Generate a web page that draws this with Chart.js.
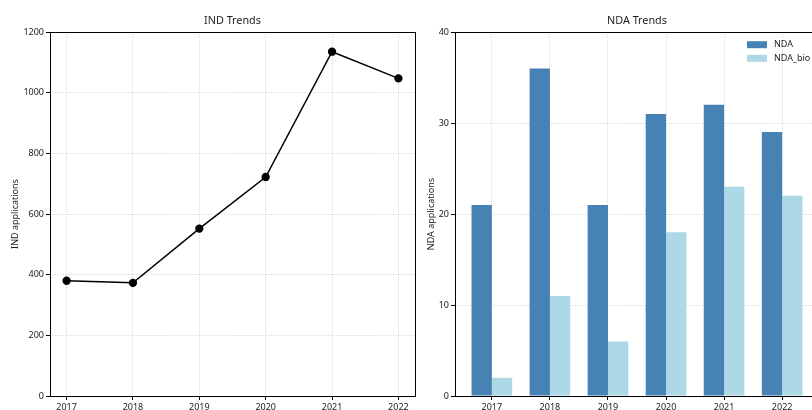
<!DOCTYPE html>
<html>
<head>
<meta charset="utf-8">
<script src="https://cdn.jsdelivr.net/npm/chart.js@4.4.1/dist/chart.umd.min.js"></script>
<style>
  html, body { margin: 0; padding: 0; background: #fff; overflow: hidden; }
  #wrap { position: relative; width: 812px; height: 410px; overflow: hidden; }
  #indBox { position: absolute; left: 0; top: 0; width: 430px; height: 410px; }
  #ndaBox { position: absolute; left: 412px; top: 0; width: 420px; height: 410px; }
</style>
</head>
<body>
<div id="wrap">
  <div id="indBox"><canvas id="indChart"></canvas></div>
  <div id="ndaBox"><canvas id="ndaChart"></canvas></div>
</div>
<script>
// Yearly submission counts
const years = [2017, 2018, 2019, 2020, 2021, 2022];
const indApplications = [380, 373, 552, 722, 1135, 1047];
const ndaApplications = [21, 36, 21, 31, 32, 29];
const ndaBioApplications = [2, 11, 6, 18, 23, 22];
const indTicks = [0, 200, 400, 600, 800, 1000, 1200];
const ndaTicks = [0, 10, 20, 30, 40];

const FONT = "'Noto Sans', 'Open Sans', sans-serif";
const INK = '#222';
const GRID = '#c4c4c4';

// Full rectangular frame around the plotting area
const framePlugin = {
  id: 'frame',
  afterDatasetsDraw(chart) {
    const { ctx, chartArea: a } = chart;
    ctx.save();
    ctx.strokeStyle = '#000';
    ctx.lineWidth = 1;
    ctx.strokeRect(Math.round(a.left) + 0.5, Math.round(a.top) + 0.5,
                   Math.round(a.right - a.left), Math.round(a.bottom - a.top));
    ctx.restore();
  }
};

// Panel title centred over the plotting area
const panelTitle = {
  id: 'panelTitle',
  afterDraw(chart, args, opts) {
    const { ctx, chartArea: a } = chart;
    ctx.save();
    ctx.font = '10.8px ' + FONT;
    ctx.fillStyle = INK;
    ctx.textAlign = 'center';
    ctx.textBaseline = 'middle';
    ctx.fillText(opts.text, (a.left + a.right) / 2, a.top - 11);
    ctx.restore();
  }
};

// Legend stacked in the upper-right corner inside the plotting area
const cornerLegend = {
  id: 'cornerLegend',
  afterDatasetsDraw(chart, args, opts) {
    const { ctx, chartArea: a } = chart;
    ctx.save();
    ctx.font = '9px ' + FONT;
    ctx.textBaseline = 'middle';
    chart.data.datasets.forEach((ds, i) => {
      const y = a.top + opts.top + i * opts.rowGap;
      const x = a.right - opts.right;
      ctx.fillStyle = ds.backgroundColor;
      ctx.fillRect(x, y - 3.5, 20, 7);
      ctx.fillStyle = INK;
      ctx.fillText(ds.label, x + 27, y);
    });
    ctx.restore();
  }
};

const gridStyle = { color: GRID, lineWidth: 0.8, tickColor: '#000', tickWidth: 1, tickLength: 4, tickBorderDash: [] };

function yearAxis(minV, maxV, height) {
  return {
    type: 'linear',
    offset: false,
    min: minV,
    max: maxV,
    afterBuildTicks: s => { s.ticks = years.map(v => ({ value: v })); },
    afterFit: s => { s.height = height; },
    grid: Object.assign({ offset: false }, gridStyle),
    border: { display: false, dash: [1, 1.6] },
    ticks: {
      autoSkip: false, maxRotation: 0, padding: 2, color: INK,
      font: { family: FONT, size: 9 },
      callback: v => String(v)
    }
  };
}

function countAxis(maxV, tickList, width, label) {
  return {
    min: 0,
    max: maxV,
    afterBuildTicks: s => { s.ticks = tickList.map(v => ({ value: v })); },
    afterFit: s => { s.width = width; },
    grid: Object.assign({}, gridStyle),
    border: { display: false, dash: [1, 1.6] },
    ticks: { padding: 2, color: INK, font: { family: FONT, size: 9 }, callback: v => String(v) },
    title: { display: true, text: label, color: INK, font: { family: FONT, size: 9 }, padding: { top: 0, bottom: 0 } }
  };
}

new Chart(document.getElementById('indChart'), {
  type: 'line',
  data: {
    datasets: [{
      label: 'IND',
      data: years.map((y, i) => ({ x: y, y: indApplications[i] })),
      borderColor: '#000',
      backgroundColor: '#000',
      borderWidth: 1.5,
      pointRadius: 3.4,
      pointHoverRadius: 3.4,
      tension: 0
    }]
  },
  options: {
    responsive: true,
    maintainAspectRatio: false,
    animation: false,
    events: [],
    layout: { padding: { left: 10, right: 15, top: 32, bottom: 0 } },
    plugins: {
      legend: { display: false }, tooltip: { enabled: false }, title: { display: false },
      panelTitle: { text: 'IND Trends' }
    },
    scales: {
      x: yearAxis(2016.75, 2022.25, 14),
      y: countAxis(1200, indTicks, 40, 'IND applications')
    }
  },
  plugins: [framePlugin, panelTitle]
});

new Chart(document.getElementById('ndaChart'), {
  type: 'bar',
  data: {
    datasets: [
      { label: 'NDA', data: years.map((y, i) => ({ x: y, y: ndaApplications[i] })), backgroundColor: '#4682B4' },
      { label: 'NDA_bio', data: years.map((y, i) => ({ x: y, y: ndaBioApplications[i] })), backgroundColor: '#ADD8E6' }
    ]
  },
  options: {
    responsive: true,
    maintainAspectRatio: false,
    animation: false,
    events: [],
    datasets: { bar: { categoryPercentage: 0.7, barPercentage: 1.0 } },
    layout: { padding: { left: 14, right: 13, top: 32, bottom: 0 } },
    plugins: {
      legend: { display: false }, tooltip: { enabled: false }, title: { display: false },
      panelTitle: { text: 'NDA Trends' },
      cornerLegend: { top: 12.7, right: 72, rowGap: 13.6 }
    },
    scales: {
      x: yearAxis(2016.365, 2022.635, 14),
      y: countAxis(40, ndaTicks, 29, 'NDA applications')
    }
  },
  plugins: [framePlugin, panelTitle, cornerLegend]
});
</script>
</body>
</html>
